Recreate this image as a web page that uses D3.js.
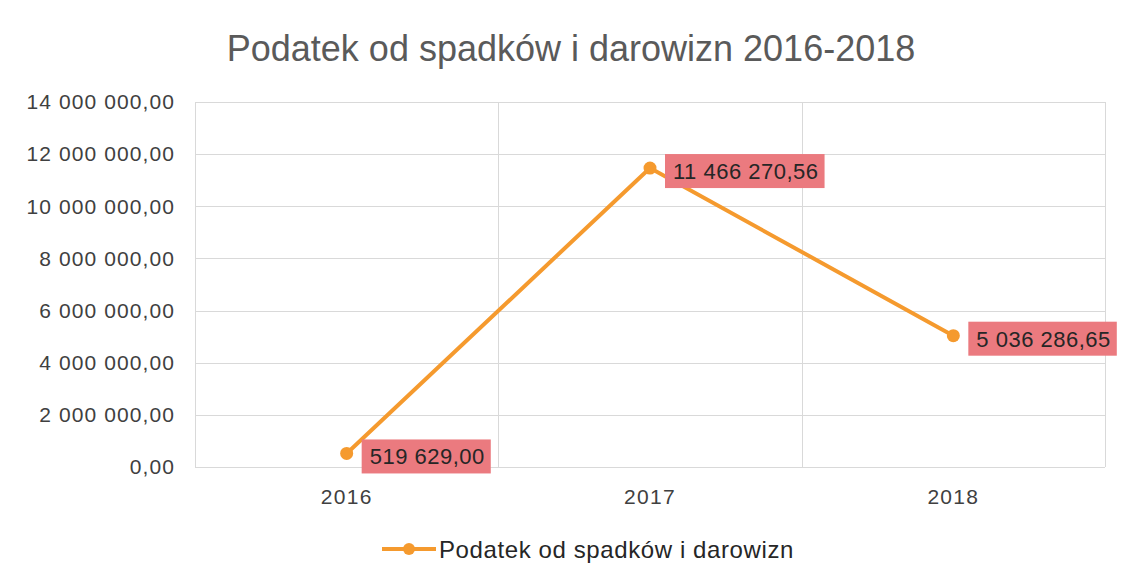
<!DOCTYPE html>
<meta charset="utf-8">
<style>

body {
  margin: 0;
  background-color: white;
  overflow: hidden;
}

text {
  font-family: "Liberation Sans", Arial, sans-serif;
}

.grid line {
  stroke: #d9d9d9;
  stroke-width: 1;
}

</style>
<body>

<script src="https://d3js.org/d3.v7.min.js"></script>
<script>

var title = "Podatek od spadków i darowizn 2016-2018";
var seriesName = "Podatek od spadków i darowizn";
var years = ["2016", "2017", "2018"];
var values = [519629.00, 11466270.56, 5036286.65];
var yTicks = [0, 2000000, 4000000, 6000000, 8000000, 10000000, 12000000, 14000000];

var width = 1126,
    height = 580;

var margin = {top: 102, right: 21, bottom: 113, left: 195};

var pl = d3.formatLocale({decimal: ",", thousands: " ", grouping: [3], currency: ["", " zł"]});
var fmt = pl.format(",.2f");

var orange = "#f59a2e";

var svg = d3.select("body").append("svg")
    .attr("width", width)
    .attr("height", height);

var x = d3.scaleBand()
    .domain(years)
    .range([margin.left, width - margin.right]);

var y = d3.scaleLinear()
    .domain([0, 14000000])
    .range([height - margin.bottom, margin.top]);

// title
svg.append("text")
    .attr("x", 571)
    .attr("y", 61)
    .attr("text-anchor", "middle")
    .style("font-size", "36px")
    .style("fill", "#5a5a5a")
    .text(title);

// horizontal grid
var grid = svg.append("g").attr("class", "grid");

grid.selectAll("line.h")
    .data(yTicks)
  .enter().append("line")
    .attr("class", "h")
    .attr("x1", x.range()[0])
    .attr("x2", x.range()[1])
    .attr("y1", function(d) { return Math.round(y(d)) + 0.5; })
    .attr("y2", function(d) { return Math.round(y(d)) + 0.5; });

// vertical grid at category edges
var edges = years.map(function(d) { return x(d); }).concat([x.range()[1]]);
grid.selectAll("line.v")
    .data(edges)
  .enter().append("line")
    .attr("class", "v")
    .attr("x1", function(d) { return Math.round(d) + 0.5; })
    .attr("x2", function(d) { return Math.round(d) + 0.5; })
    .attr("y1", y(14000000))
    .attr("y2", y(0));

// y axis labels
var yAxis = d3.axisLeft(y)
    .tickValues(yTicks)
    .tickFormat(fmt)
    .tickSize(0)
    .tickPadding(20);

svg.append("g")
    .attr("transform", "translate(" + margin.left + ",0)")
    .call(yAxis)
    .call(function(g) { g.select(".domain").remove(); })
    .selectAll("text")
    .style("font-size", "21px")
    .style("letter-spacing", "1.1px")
    .style("fill", "#404040")
    .style("font-family", "'Liberation Sans', Arial, sans-serif");

// x axis labels
var xAxis = d3.axisBottom(x)
    .tickSize(0)
    .tickPadding(22);

svg.append("g")
    .attr("transform", "translate(0," + y(0) + ")")
    .call(xAxis)
    .call(function(g) { g.select(".domain").remove(); })
    .selectAll("text")
    .style("font-size", "21px")
    .style("letter-spacing", "1.3px")
    .style("fill", "#404040")
    .style("font-family", "'Liberation Sans', Arial, sans-serif");

// series line
var data = years.map(function(d, i) { return {year: d, value: values[i]}; });

var line = d3.line()
    .x(function(d) { return x(d.year) + x.bandwidth() / 2; })
    .y(function(d) { return y(d.value); });

svg.append("path")
    .datum(data)
    .attr("d", line)
    .attr("fill", "none")
    .attr("stroke", orange)
    .attr("stroke-width", 4)
    .attr("stroke-linejoin", "round");

svg.selectAll("circle.pt")
    .data(data)
  .enter().append("circle")
    .attr("class", "pt")
    .attr("cx", function(d) { return x(d.year) + x.bandwidth() / 2; })
    .attr("cy", function(d) { return y(d.value); })
    .attr("r", 6.5)
    .attr("fill", orange);

// data labels
var labels = svg.selectAll("g.lbl")
    .data(data)
  .enter().append("g")
    .attr("class", "lbl")
    .attr("transform", function(d) {
      return "translate(" + (x(d.year) + x.bandwidth() / 2 + 15) + "," + (y(d.value) + 3) + ")";
    });

labels.append("text")
    .attr("x", 8)
    .attr("dy", "0.36em")
    .style("font-size", "22px")
    .style("letter-spacing", "0.5px")
    .style("fill", "#262626")
    .text(function(d) { return fmt(d.value); })
    .each(function() {
      var b = this.getBBox();
      d3.select(this.parentNode).insert("rect", "text")
          .attr("x", 0)
          .attr("y", -17)
          .attr("width", b.width + 14)
          .attr("height", 34)
          .attr("fill", "#eb7a7f");
    });

// legend
var legend = svg.append("g")
    .attr("transform", "translate(382,549)");

legend.append("line")
    .attr("x1", 0)
    .attr("x2", 54)
    .attr("stroke", orange)
    .attr("stroke-width", 4);

legend.append("circle")
    .attr("cx", 27)
    .attr("r", 6)
    .attr("fill", orange);

legend.append("text")
    .attr("x", 57)
    .attr("dy", "0.36em")
    .style("font-size", "24px")
    .style("letter-spacing", "0.6px")
    .style("fill", "#262626")
    .text(seriesName);

</script>
